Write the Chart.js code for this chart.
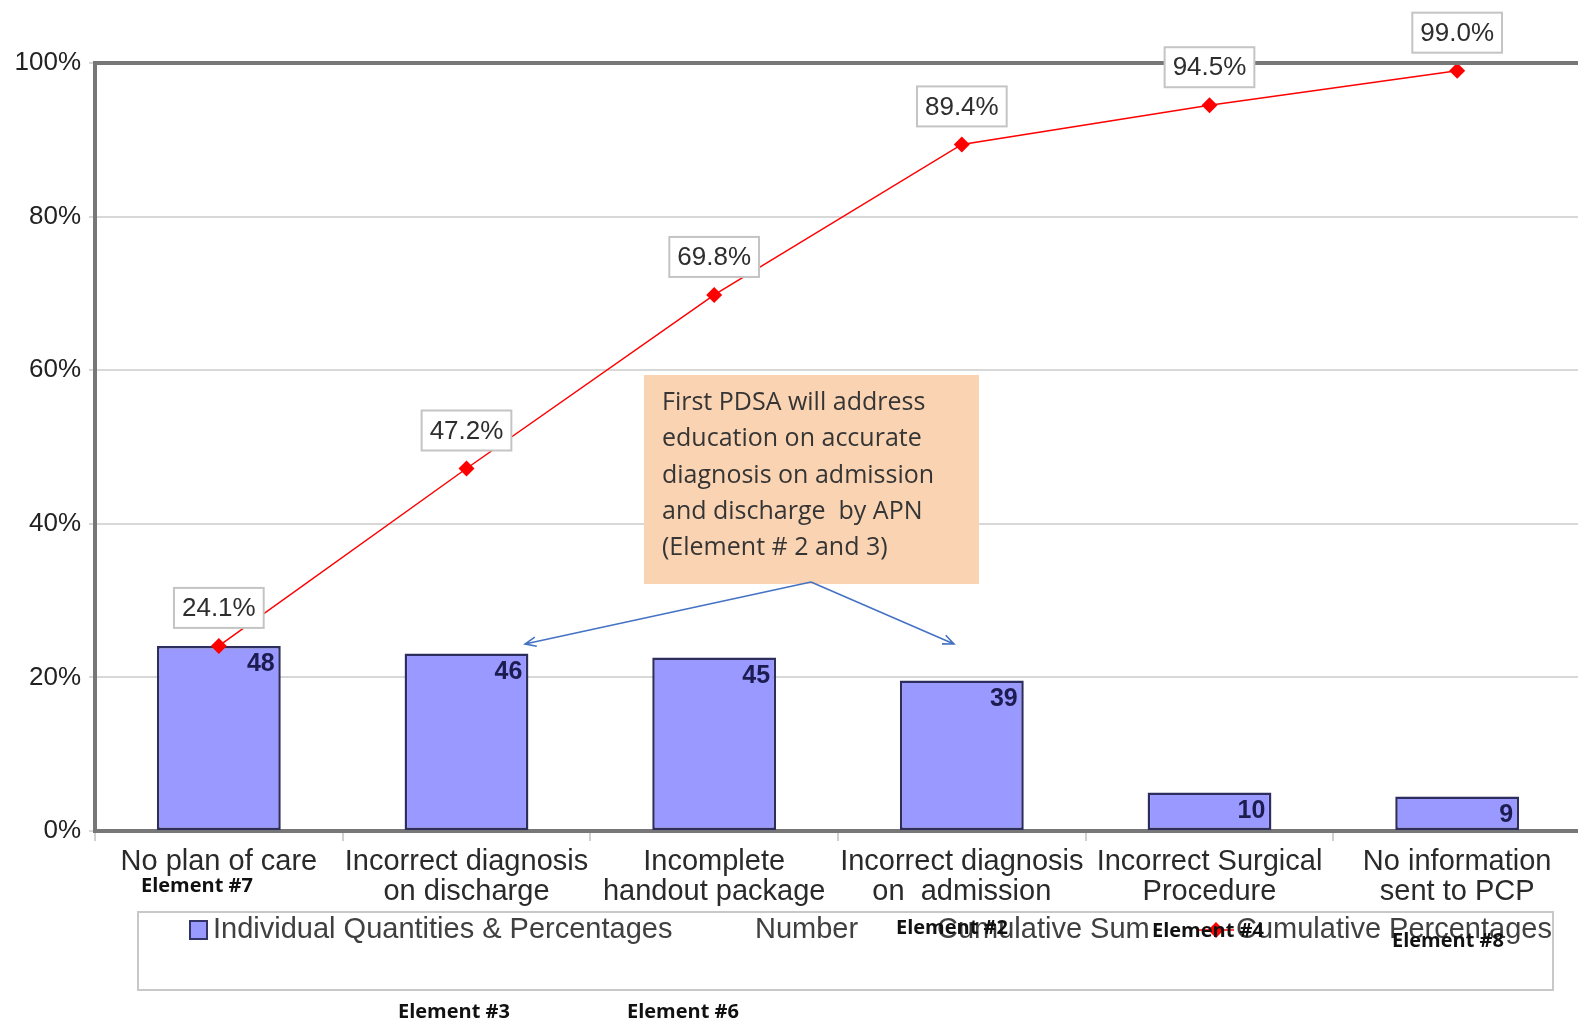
<!DOCTYPE html>
<html>
<head>
<meta charset="utf-8">
<script src="https://cdn.jsdelivr.net/npm/chart.js@4.4.0/dist/chart.umd.min.js"></script>
<style>
  html, body { margin: 0; padding: 0; background: #fff; overflow: hidden; }
  canvas { display: block; }
</style>
</head>
<body>
<!-- plot runs a little past the right edge of the window, as in the source -->
<canvas id="pareto" width="1589" height="1021"></canvas>
<script>
// data
const categories = [
    ['No plan of care'],
    ['Incorrect diagnosis', 'on discharge'],
    ['Incomplete', 'handout package'],
    ['Incorrect diagnosis', 'on  admission'],
    ['Incorrect Surgical', 'Procedure'],
    ['No information', 'sent to PCP']
];
const counts = [48, 46, 45, 39, 10, 9];
const individualPct = [24.1, 23.1, 22.6, 19.6, 5.0, 4.5];
const cumulativePct = [24.1, 47.2, 69.8, 89.4, 94.5, 99.0];
const yTicks = [0, 20, 40, 60, 80, 100];
const legendNames = ['Individual Quantities & Percentages', 'Number', 'Cumulative Sum', 'Cumulative Percentages'];
const noteLines = [
    'First PDSA will address',
    'education on accurate',
    'diagnosis on admission',
    'and discharge  by APN',
    '(Element # 2 and 3)'
];
const elementTags = [
    { text: 'Element #7', x: 141, y: 886 },
    { text: 'Element #3', x: 398, y: 1012 },
    { text: 'Element #6', x: 627, y: 1012 },
    { text: 'Element #2', x: 896, y: 928 },
    { text: 'Element #4', x: 1152, y: 931 },
    { text: 'Element #8', x: 1392, y: 941 }
];

const ARIAL = '"Liberation Sans", Arial, sans-serif';
const CALIBRI = '"Open Sans", "Noto Sans", sans-serif';

function arrow(ctx, x1, y1, x2, y2) {
    const ang = Math.atan2(y2 - y1, x2 - x1);
    ctx.beginPath();
    ctx.moveTo(x1, y1);
    ctx.lineTo(x2, y2);
    ctx.moveTo(x2 - 12 * Math.cos(ang - 0.4), y2 - 12 * Math.sin(ang - 0.4));
    ctx.lineTo(x2, y2);
    ctx.lineTo(x2 - 12 * Math.cos(ang + 0.4), y2 - 12 * Math.sin(ang + 0.4));
    ctx.stroke();
}

const overlay = {
    id: 'overlay',
    afterDatasetsDraw(chart) {
        const { ctx, chartArea: a } = chart;
        ctx.save();

        // top frame line
        ctx.strokeStyle = '#777';
        ctx.lineWidth = 4;
        ctx.beginPath();
        ctx.moveTo(a.left - 2, a.top);
        ctx.lineTo(a.right, a.top);
        ctx.stroke();

        // counts inside bars
        const bars = chart.getDatasetMeta(1).data;
        ctx.font = 'bold 25px ' + ARIAL;
        ctx.fillStyle = '#1c1c50';
        ctx.textAlign = 'right';
        ctx.textBaseline = 'top';
        bars.forEach((b, i) => ctx.fillText(String(counts[i]), b.x + b.width / 2 - 6, b.y + 6));

        // cumulative labels in boxes
        const pts = chart.getDatasetMeta(0).data;
        ctx.font = '26px ' + ARIAL;
        ctx.textAlign = 'center';
        ctx.textBaseline = 'middle';
        pts.forEach((p, i) => {
            const txt = cumulativePct[i].toFixed(1) + '%';
            const w = ctx.measureText(txt).width + 16;
            const h = 40;
            const bottom = p.y - 18;
            ctx.fillStyle = '#fff';
            ctx.fillRect(p.x - w / 2, bottom - h, w, h);
            ctx.strokeStyle = '#c4c4c4';
            ctx.lineWidth = 2;
            ctx.strokeRect(p.x - w / 2, bottom - h, w, h);
            ctx.fillStyle = '#2e2e2e';
            ctx.fillText(txt, p.x, bottom - h / 2 + 1);
        });

        // note box
        ctx.fillStyle = '#fad3b2';
        ctx.fillRect(644, 375, 335, 209);
        ctx.fillStyle = '#353535';
        ctx.font = '25px ' + CALIBRI;
        ctx.textAlign = 'left';
        noteLines.forEach((t, i) => ctx.fillText(t, 662, 403 + i * 36.2));

        // arrows
        ctx.strokeStyle = '#4472c4';
        ctx.lineWidth = 1.6;
        arrow(ctx, 811, 582, 525, 644);
        arrow(ctx, 811, 582, 954, 644);

        ctx.restore();
    },
    afterDraw(chart) {
        const { ctx } = chart;
        ctx.save();

        // legend box
        ctx.fillStyle = '#fff';
        ctx.fillRect(138, 912, 1415, 78);
        ctx.strokeStyle = '#c8c8c8';
        ctx.lineWidth = 2;
        ctx.strokeRect(138, 912, 1415, 78);

        ctx.font = '29px ' + ARIAL;
        ctx.textBaseline = 'middle';
        ctx.textAlign = 'left';
        const ly = 930;
        ctx.fillStyle = '#9999ff';
        ctx.fillRect(190, 921, 17, 18);
        ctx.strokeStyle = '#333366';
        ctx.lineWidth = 2;
        ctx.strokeRect(190, 921, 17, 18);
        ctx.fillStyle = '#404040';
        ctx.fillText(legendNames[0], 213, ly);
        ctx.fillText(legendNames[1], 755, ly);
        ctx.fillText(legendNames[2], 937, ly);
        ctx.strokeStyle = '#ff0000';
        ctx.lineWidth = 1.5;
        ctx.beginPath();
        ctx.moveTo(1197, ly);
        ctx.lineTo(1234, ly);
        ctx.stroke();
        ctx.fillStyle = '#ff0000';
        ctx.beginPath();
        ctx.moveTo(1216, ly - 8);
        ctx.lineTo(1224, ly);
        ctx.lineTo(1216, ly + 8);
        ctx.lineTo(1208, ly);
        ctx.closePath();
        ctx.fill();
        ctx.fillStyle = '#404040';
        ctx.fillText(legendNames[3], 1236, ly);

        // element tags
        ctx.font = 'bold 20px ' + CALIBRI;
        ctx.fillStyle = '#111';
        elementTags.forEach(t => ctx.fillText(t.text, t.x, t.y));

        ctx.restore();
    }
};

new Chart(document.getElementById('pareto'), {
    data: {
        labels: categories,
        datasets: [{
            type: 'line',
            label: legendNames[3],
            data: cumulativePct,
            borderColor: '#ff0000',
            borderWidth: 1.5,
            backgroundColor: '#ff0000',
            pointStyle: 'rectRot',
            pointRadius: 8,
            pointBorderWidth: 0,
            tension: 0,
            order: 0
        }, {
            type: 'bar',
            label: legendNames[0],
            data: individualPct,
            backgroundColor: '#9999ff',
            borderColor: '#2e2e5e',
            borderWidth: 2.5,
            borderSkipped: false,
            categoryPercentage: 1,
            barPercentage: 0.5,
            order: 1
        }]
    },
    options: {
        responsive: false,
        animation: false,
        layout: { padding: { top: 63, right: 0, bottom: 0, left: 0 } },
        plugins: {
            legend: { display: false },
            tooltip: { enabled: false }
        },
        scales: {
            x: {
                afterFit: s => { s.height = 190; },
                ticks: {
                    color: '#2a2a2a',
                    font: { family: ARIAL, size: 29, lineHeight: 30 / 29 },
                    maxRotation: 0,
                    autoSkip: false,
                    padding: 6
                },
                grid: {
                    drawOnChartArea: false,
                    drawTicks: true,
                    tickLength: 10,
                    color: '#d0d0d0',
                    lineWidth: 2
                },
                border: { display: true, color: '#777', width: 4 }
            },
            y: {
                min: 0,
                max: 100,
                afterFit: s => { s.width = 95; },
                afterBuildTicks: s => { s.ticks = yTicks.map(v => ({ value: v })); },
                ticks: {
                    color: '#222',
                    font: { family: ARIAL, size: 26 },
                    padding: 8,
                    callback: v => v + '%'
                },
                grid: {
                    color: '#d8d8d8',
                    lineWidth: 2,
                    tickLength: 6
                },
                border: { display: true, color: '#777', width: 4 }
            }
        }
    },
    plugins: [overlay]
});
</script>
</body>
</html>
